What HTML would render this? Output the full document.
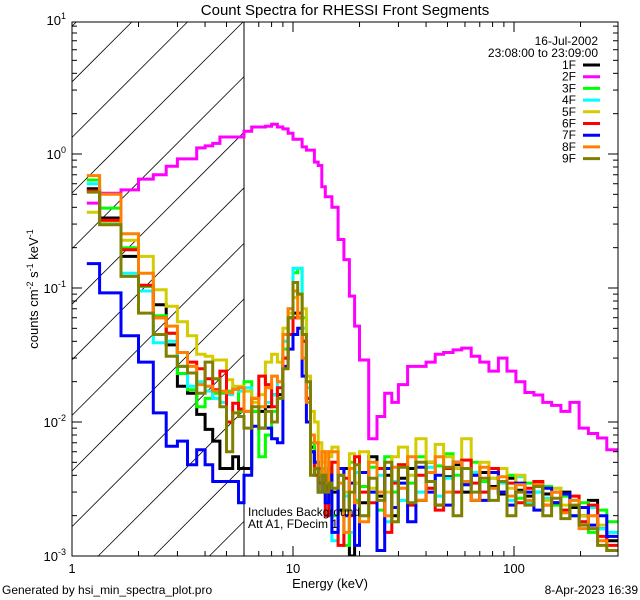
<!DOCTYPE html>
<html><head><meta charset="utf-8"><title>Count Spectra for RHESSI Front Segments</title>
<style>
html,body{margin:0;padding:0;background:#fff;width:640px;height:600px;overflow:hidden;}
svg{display:block;font-family:"Liberation Sans",sans-serif;}
</style></head>
<body>
<svg id="chart" width="640" height="600" viewBox="0 0 640 600">
<rect x="0" y="0" width="640" height="600" fill="#fff"/>
<defs><clipPath id="plotclip"><rect x="72" y="22" width="546" height="534"/></clipPath></defs>
<text x="345" y="15" font-size="15" text-anchor="middle">Count Spectra for RHESSI Front Segments</text>
<g id="hatch"></g>
<line x1="244" y1="22" x2="244" y2="556" stroke="#000" stroke-width="1"/>
<g id="series" clip-path="url(#plotclip)"></g>
<rect x="72" y="22" width="546" height="534" fill="none" stroke="#000" stroke-width="1"/>
<g id="axes"></g>
<text x="330" y="588" font-size="13" text-anchor="middle">Energy (keV)</text>
<text transform="translate(38,289) rotate(-90)" font-size="13" text-anchor="middle">counts cm<tspan font-size="9" dy="-5">-2</tspan><tspan dy="5"> s</tspan><tspan font-size="9" dy="-5">-1</tspan><tspan dy="5"> keV</tspan><tspan font-size="9" dy="-5">-1</tspan></text>
<text x="598" y="45" font-size="12" text-anchor="end">16-Jul-2002</text>
<text x="598" y="57" font-size="12" text-anchor="end">23:08:00 to 23:09:00</text>
<g id="legend"></g>
<text x="248" y="516" font-size="12">Includes Background</text>
<text x="248" y="528" font-size="12">Att A1, FDecim 1</text>
<text x="2" y="594" font-size="12">Generated by hsi_min_spectra_plot.pro</text>
<text x="638" y="594" font-size="12" text-anchor="end">8-Apr-2023 16:39</text>
</svg>
<script>
// ---- data ----
const binEdges = [1.167,1.333,1.667,2.0,2.333,2.667,3.0,3.333,3.667,4.0,4.333,4.667,5.0,5.333,5.667,
  6.0,6.5,7,7.5,8,8.5,9,9.5,10,10.5,11,11.5,12,12.5,13,13.5,14,14.5,
  15,16,17,18,19,20,22,24,26,28,30,33,36,40,44,48,53,58,64,70,77,85,93,102,112,123,135,148,163,179,197,217,239,263,300];
const seriesNames = ["1F","2F","3F","4F","5F","6F","7F","8F","9F"];
const lowMid1F = [0.55,0.333,0.172,0.103,0.075,0.0376,0.0185,0.0164,0.0114,0.0088,0.0072,0.0045,0.0045,0.0055,0.0045,
  0.0045,0.012,0.012,0.013,0.016,0.016,0.03,0.06,0.065,0.06,0.04,0.015,0.0065,0.005,0.0045,0.004,0.0035,0.0045];
const high1F = [3.0e-3,2.2e-3,4.5e-3,1.0e-3,3.5e-3,2.5e-3,5.5e-3,2.8e-3,4.0e-3,2.0e-3,3.8e-3,4.5e-3,2.6e-3,5.0e-3,2.4e-3,3.9e-3,4.8e-3,3.0e-3,2.6e-3,4.2e-3,3.3e-3,2.9e-3,3.8e-3,3.1e-3,2.8e-3,3.4e-3,2.9e-3,2.5e-3,3.0e-3,2.3e-3,2.0e-3,2.6e-3,1.6e-3,1.3e-3];
const lowMid2F = [0.43,0.51,0.54,0.65,0.70,0.81,0.92,0.92,1.11,1.15,1.20,1.34,1.34,1.34,1.34,
  1.48,1.59,1.59,1.61,1.67,1.59,1.54,1.43,1.29,1.29,1.13,1.07,1.07,0.87,0.82,0.57,0.48,0.48];
const high2F = [0.40,0.23,0.163,0.087,0.052,0.029,0.0075,0.011,0.0164,0.014,0.019,0.026,0.026,0.028,0.032,0.033,0.0345,0.0356,0.031,0.028,0.024,0.030,0.024,0.020,0.0166,0.0159,0.014,0.0133,0.012,0.014,0.009,0.0082,0.0076,0.0062];
const lowMid3F = [0.64,0.395,0.2,0.103,0.062,0.046,0.023,0.0174,0.013,0.015,0.0164,0.0164,0.017,0.0175,0.012,
  0.02,0.012,0.0055,0.008,0.012,0.018,0.035,0.06,0.13,0.14,0.06,0.02,0.007,0.005,0.004,0.0045,0.0025,0.005];
const high3F = [2.0e-3,4.0e-3,1.2e-3,5.0e-3,2.6e-3,3.3e-3,4.6e-3,2.2e-3,5.5e-3,3.0e-3,4.8e-3,3.5e-3,5.5e-3,3.2e-3,4.7e-3,5.8e-3,4.0e-3,3.5e-3,5.0e-3,3.6e-3,4.2e-3,3.0e-3,4.0e-3,2.7e-3,3.5e-3,3.0e-3,3.3e-3,2.4e-3,2.8e-3,2.0e-3,2.5e-3,1.5e-3,2.2e-3,1.8e-3];
const lowMid4F = [0.60,0.31,0.129,0.095,0.039,0.04,0.026,0.0185,0.02,0.017,0.015,0.014,0.016,0.018,0.017,
  0.018,0.015,0.013,0.014,0.016,0.02,0.04,0.07,0.14,0.14,0.05,0.018,0.006,0.004,0.003,0.003,0.002,0.0028];
const high4F = [1.3e-3,3.5e-3,2.8e-3,1.5e-3,4.2e-3,2.0e-3,3.0e-3,4.0e-3,1.8e-3,3.6e-3,2.6e-3,4.0e-3,3.0e-3,4.6e-3,2.8e-3,3.8e-3,5.0e-3,3.4e-3,4.2e-3,3.0e-3,3.8e-3,3.5e-3,2.6e-3,3.9e-3,2.5e-3,3.0e-3,2.7e-3,3.2e-3,2.2e-3,2.6e-3,1.8e-3,2.3e-3,1.6e-3,1.5e-3];
const lowMid5F = [0.367,0.315,0.227,0.172,0.097,0.073,0.056,0.044,0.032,0.031,0.029,0.029,0.0207,0.0185,0.0185,
  0.017,0.014,0.016,0.028,0.032,0.028,0.05,0.065,0.085,0.09,0.07,0.022,0.012,0.01,0.007,0.005,0.006,0.0055];
const high5F = [6.5e-3,4.0e-3,3.0e-3,5.8e-3,3.5e-3,6.0e-3,3.2e-3,4.5e-3,3.0e-3,5.5e-3,6.5e-3,4.0e-3,7.5e-3,5.0e-3,6.8e-3,5.5e-3,4.5e-3,7.5e-3,4.0e-3,5.0e-3,3.8e-3,4.5e-3,3.2e-3,4.0e-3,3.0e-3,3.5e-3,2.6e-3,3.2e-3,2.4e-3,2.8e-3,2.0e-3,2.0e-3,1.7e-3,1.4e-3];
const lowMid6F = [0.53,0.32,0.193,0.105,0.060,0.046,0.033,0.028,0.025,0.021,0.0174,0.024,0.010,0.0138,0.0125,
  0.012,0.015,0.022,0.019,0.013,0.018,0.03,0.045,0.06,0.065,0.04,0.015,0.006,0.004,0.0035,0.0035,0.002,0.004];
const high6F = [5.0e-3,1.2e-3,3.8e-3,2.0e-3,5.5e-3,3.0e-3,2.5e-3,4.5e-3,1.5e-3,3.5e-3,4.8e-3,2.4e-3,4.0e-3,3.2e-3,2.2e-3,4.5e-3,3.0e-3,5.2e-3,3.5e-3,3.0e-3,4.5e-3,3.0e-3,3.5e-3,2.5e-3,3.2e-3,3.6e-3,2.4e-3,3.0e-3,2.2e-3,2.8e-3,1.8e-3,2.4e-3,1.4e-3,1.2e-3];
const lowMid7F = [0.152,0.092,0.044,0.028,0.0117,0.0066,0.0072,0.0048,0.0062,0.0048,0.0036,0.0036,0.0036,0.0036,0.0025,
  0.004,0.0093,0.009,0.009,0.0075,0.007,0.026,0.035,0.045,0.05,0.022,0.01,0.006,0.005,0.003,0.004,0.0025,0.004];
const high7F = [1.5e-3,4.5e-3,2.0e-3,3.5e-3,1.2e-3,4.2e-3,3.0e-3,1.1e-3,4.5e-3,2.3e-3,3.5e-3,1.8e-3,4.6e-3,3.0e-3,4.0e-3,2.4e-3,5.0e-3,3.4e-3,4.0e-3,2.6e-3,4.2e-3,3.0e-3,2.4e-3,3.5e-3,3.0e-3,2.2e-3,3.2e-3,2.5e-3,2.9e-3,2.0e-3,2.3e-3,1.7e-3,2.0e-3,1.4e-3];
const lowMid8F = [0.69,0.50,0.254,0.129,0.06,0.052,0.033,0.026,0.019,0.0185,0.017,0.017,0.0165,0.0175,0.018,
  0.012,0.015,0.013,0.018,0.022,0.02,0.045,0.07,0.095,0.06,0.03,0.014,0.008,0.007,0.004,0.006,0.0035,0.006];
const high8F = [6.0e-3,3.5e-3,1.5e-3,4.5e-3,2.5e-3,1.8e-3,5.0e-3,3.0e-3,2.0e-3,4.6e-3,3.2e-3,5.5e-3,2.6e-3,4.2e-3,5.5e-3,3.0e-3,5.0e-3,3.6e-3,2.6e-3,4.6e-3,3.2e-3,3.9e-3,2.8e-3,3.4e-3,2.6e-3,3.4e-3,2.4e-3,3.0e-3,2.1e-3,2.6e-3,1.6e-3,2.0e-3,1.3e-3,1.1e-3];
const lowMid9F = [0.52,0.297,0.122,0.065,0.045,0.031,0.026,0.0232,0.0164,0.028,0.021,0.013,0.006,0.0117,0.011,
  0.009,0.013,0.009,0.012,0.01,0.015,0.025,0.06,0.11,0.09,0.045,0.02,0.004,0.0045,0.003,0.004,0.003,0.0035];
const high9F = [3.2e-3,4.0e-3,2.2e-3,3.0e-3,4.8e-3,2.0e-3,3.8e-3,2.6e-3,5.0e-3,1.8e-3,4.6e-3,2.5e-3,5.0e-3,3.6e-3,2.4e-3,4.6e-3,2.0e-3,4.5e-3,3.0e-3,3.8e-3,2.6e-3,3.6e-3,2.0e-3,3.0e-3,2.4e-3,3.3e-3,2.0e-3,2.7e-3,1.9e-3,2.4e-3,1.7e-3,1.6e-3,1.2e-3,1.1e-3];
const xTickLabels = ["1","10","100"];
const yTickExps = ["1","0","-1","-2","-3"];

// ---- layout ----
const L=72,R=618,T=22,B=556, XDEC=221, Y0=154, YDEC=134, HX=244;
const xs = e => L + Math.log10(e)*XDEC;
const ys = v => Y0 - Math.log10(v)*YDEC;
const NS="http://www.w3.org/2000/svg";
const colors = ["#000000","#ff00ff","#00ff00","#00ffff","#d4cc00","#ff0000","#0000ff","#ff8000","#808000"];
const seriesData = [[lowMid1F,high1F],[lowMid2F,high2F],[lowMid3F,high3F],[lowMid4F,high4F],[lowMid5F,high5F],[lowMid6F,high6F],[lowMid7F,high7F],[lowMid8F,high8F],[lowMid9F,high9F]];

// hatch (endpoints computed inside the hatched rectangle)
const hatch=document.getElementById('hatch');
for(let k=-12;k<14;k++){
  const c=193+55.6*k;            // y at x=L ; line: y = c - (x-L)
  const x1=L+Math.max(0,c-B);
  const x2=Math.min(HX,L+(c-T));
  if(x2<=x1) continue;
  const ln=document.createElementNS(NS,'line');
  ln.setAttribute('x1',x1.toFixed(1)); ln.setAttribute('y1',(c-(x1-L)).toFixed(1));
  ln.setAttribute('x2',x2.toFixed(1)); ln.setAttribute('y2',(c-(x2-L)).toFixed(1));
  ln.setAttribute('stroke','#000'); ln.setAttribute('stroke-width','0.8');
  
  
  hatch.appendChild(ln);
}

// series
const sg=document.getElementById('series');
seriesData.forEach((pair,si)=>{
  const vals=pair[0].concat(pair[1]);
  const cl=v=>ys(Math.max(v,8e-4));
  let d='M'+xs(binEdges[0]).toFixed(1)+','+cl(vals[0]).toFixed(1);
  for(let i=0;i<vals.length;i++){
    d+=' H'+Math.min(R,xs(binEdges[i+1])).toFixed(1);
    if(i+1<vals.length) d+=' V'+cl(vals[i+1]).toFixed(1);
  }
  const p=document.createElementNS(NS,'path');
  p.setAttribute('d',d); p.setAttribute('fill','none');
  p.setAttribute('stroke',colors[si]); p.setAttribute('stroke-width','3');
  
  
  sg.appendChild(p);
});

// axes ticks
const ax=document.getElementById('axes');
function line(x1,y1,x2,y2,name){
  const l=document.createElementNS(NS,'line');
  l.setAttribute('x1',x1);l.setAttribute('y1',y1);l.setAttribute('x2',x2);l.setAttribute('y2',y2);
  l.setAttribute('stroke','#000');l.setAttribute('stroke-width','1');
  
  
  ax.appendChild(l);
}
function text(x,y,str,anchor,name,size){
  const t=document.createElementNS(NS,'text');
  t.setAttribute('x',x);t.setAttribute('y',y);t.setAttribute('font-size',size||13);
  t.setAttribute('text-anchor',anchor);t.textContent=str;
  
  
  ax.appendChild(t); return t;
}
for(let dec=0;dec<3;dec++){
  for(let m=1;m<10;m++){
    const e=Math.pow(10,dec)*m; const x=xs(e);
    if(x>R+0.5) continue;
    const len=m===1?10:5;
    line(x,B,x,B-len,'x-tick'); line(x,T,x,T+len,'x-tick-top');
  }
}
xTickLabels.forEach((s,i)=>text(xs(Math.pow(10,i)),573,s,'middle','x-tick-label'));
for(let dec=-3;dec<=1;dec++){
  for(let m=1;m<10;m++){
    const v=Math.pow(10,dec)*m; const y=ys(v);
    if(y<T-0.5) continue;
    const len=m===1?10:5;
    line(L,y,L+len,y,'y-tick'); line(R,y,R-len,y,'y-tick-right');
  }
}
yTickExps.forEach(ex=>{
  const y=ys(Math.pow(10,+ex));
  text(ex.length>1?58:61,y+5,'10','end','y-tick-label');
  const sup=document.createElementNS(NS,'text');
  sup.setAttribute('x',ex.length>1?58:61); sup.setAttribute('y',y-1);
  sup.setAttribute('font-size',9); sup.textContent=ex;
  
  
  ax.appendChild(sup);
});

// legend
const lg=document.getElementById('legend');
seriesNames.forEach((n,i)=>{
  const y=69+i*11.7;
  const t=document.createElementNS(NS,'text');
  t.setAttribute('x',576);t.setAttribute('y',y);t.setAttribute('font-size',12);
  t.setAttribute('text-anchor','end');t.textContent=n;
  
  
  lg.appendChild(t);
  const l=document.createElementNS(NS,'line');
  l.setAttribute('x1',583);l.setAttribute('x2',600);l.setAttribute('y1',y-4);l.setAttribute('y2',y-4);
  l.setAttribute('stroke',colors[i]);l.setAttribute('stroke-width','3');
  
  
  lg.appendChild(l);
});
</script>
</body></html>
